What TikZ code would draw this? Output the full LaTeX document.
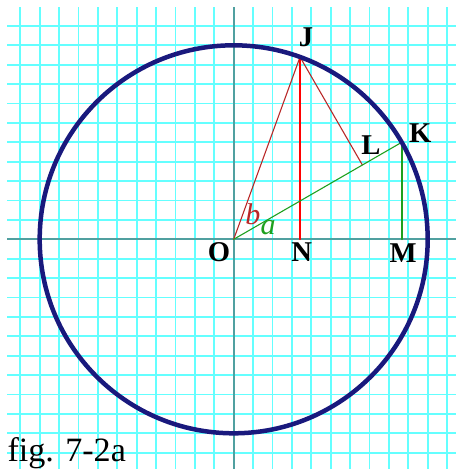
\documentclass[tikz,border=0pt]{standalone}
\usepackage{fontspec}
\setmainfont{Liberation Serif}
\definecolor{gridcyan}{RGB}{100,255,255}
\definecolor{axisteal}{RGB}{80,160,160}
\definecolor{rimnavy}{RGB}{25,25,125}
\definecolor{darkred}{RGB}{185,40,40}
\definecolor{darkgreen}{RGB}{30,160,30}
\begin{document}
\begin{tikzpicture}[x=0.5cm, y=0.5cm, line join=round, line cap=round,
	every node/.style={font=\fontsize{21}{21}\selectfont\bfseries, inner sep=0pt},
	angtxt/.style={font=\fontsize{22}{22}\selectfont\itshape},
	declare function={R=10; ta=30; tb=40;}]
	
	\fill[white] (-12.046,-11.840) rectangle (11.459,12.335);
	\useasboundingbox (-12.046,-11.840) rectangle (11.459,12.335);
	
	\draw[gridcyan, line width=1.4pt, line cap=butt, step=0.5cm] (-11.67,-11.9) grid (11.5,11.97);
	\draw[axisteal, line width=1.3pt, line cap=butt] (-11.67,0) -- (11.5,0);
	\draw[axisteal, line width=1.3pt, line cap=butt] (0,-11.9) -- (0,11.97);
	
	\coordinate (O) at (0,0);
	\coordinate (J) at (ta+tb:R);
	\coordinate (K) at (ta:R);
	\coordinate (L) at (ta:{R*cos(tb)});
	\coordinate (N) at (J |- O);
	\coordinate (M) at (K |- O);
	
	\draw[darkred, line width=0.8pt] (O) -- (J) -- (L);
	\draw[red, line width=1.2pt] (J) -- (N);
	\draw[darkgreen, line width=0.8pt] (O) -- (K);
	\draw[darkgreen, line width=1.2pt] (K) -- (M);
	
	\draw[rimnavy, line width=3.3pt] (O) circle (R);
	
	\node (labJ) at (3.73,10.43) {J};
	\node (labK) at (9.62,5.48) {K};
	\node (labL) at (7.08,4.86) {L};
	\node (labO) at (-0.76,-0.68) {O};
	\node (labN) at (3.51,-0.68) {N};
	\node (labM) at (8.73,-0.72) {M};
	\node[angtxt, darkred] (labb) at (0.99,1.30) {b};
	\node[angtxt, darkgreen] (laba) at (1.77,0.58) {a};
	
	\node[anchor=base west, font=\fontsize{25}{25}\selectfont] (caption) at (-11.67,-11.43) {fig. 7-2a};
	
\end{tikzpicture}
\end{document}
